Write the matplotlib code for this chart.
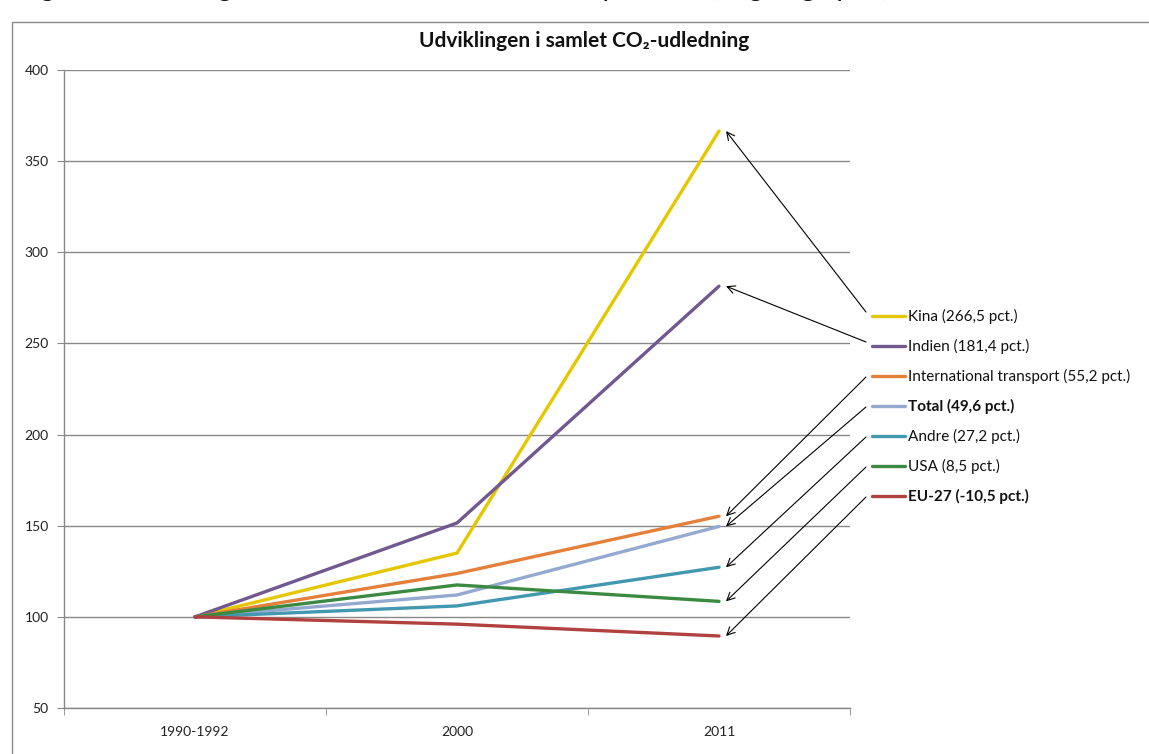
import matplotlib
matplotlib.use("Agg")
import matplotlib.pyplot as plt
from matplotlib.lines import Line2D
from matplotlib.patches import Rectangle
from matplotlib.transforms import ScaledTranslation

plt.rcParams['font.family'] = ['Lato', 'DejaVu Sans']

categories = ["1990-1992", "2000", "2011"]
series_names = ["Kina (266,5 pct.)", "Indien (181,4 pct.)", "International transport (55,2 pct.)",
                "Total (49,6 pct.)", "Andre (27,2 pct.)", "USA (8,5 pct.)", "EU-27 (-10,5 pct.)"]
kina = [100, 135, 366.5]
indien = [100, 151.5, 281.4]
intl_transport = [100, 123.8, 155.2]
total = [100, 112, 149.6]
andre = [100, 106, 127.2]
usa = [100, 117.5, 108.5]
eu27 = [100, 96, 89.5]
series_values = [kina, indien, intl_transport, total, andre, usa, eu27]
colors = ['#E5C700', '#71588F', '#E4803A', '#93A9CF', '#4198AF', '#3B8A42', '#B1413E']
bold_labels = {"Total (49,6 pct.)", "EU-27 (-10,5 pct.)"}
yticks = [50, 100, 150, 200, 250, 300, 350, 400]

W, H = 1149, 754
fig = plt.figure(figsize=(W / 100, H / 100), dpi=100)
ax = fig.add_axes([64 / W, 1 - 708 / H, (850 - 64) / W, (708 - 70) / H])

x = list(range(len(categories)))
for vals, c in zip(series_values, colors):
    ax.plot(x, vals, color=c, lw=2.4, solid_capstyle='round', solid_joinstyle='miter', zorder=3)

ax.set_ylim(50, 400)
ax.set_xlim(-0.5, 2.5)
ax.set_yticks(yticks)
ax.set_yticklabels([str(t) for t in yticks], fontsize=10, color='#222222')
ax.set_xticks(x)
ax.set_xticklabels(categories, fontsize=10, color='#222222')
ax.set_xticks([-0.5, 0.5, 1.5, 2.5], minor=True)
ax.tick_params(axis='x', which='major', length=0, pad=13)
ax.tick_params(axis='x', which='minor', length=5, color='#888888', direction='out')
ax.tick_params(axis='y', length=5, color='#888888', direction='out', pad=6)
ax.grid(axis='y', color='#888888', lw=1.0)
ax.set_axisbelow(True)
for s in ['top', 'right']:
    ax.spines[s].set_visible(False)
for s in ['left', 'bottom']:
    ax.spines[s].set_color('#888888')
    ax.spines[s].set_linewidth(1.0)

# outer chart frame
fig.add_artist(Rectangle((12 / W, -0.1), 1.2, 1 - 22 / H + 0.1, transform=fig.transFigure,
                         fill=False, edgecolor='#8a8a8a', lw=1.0))

# heading above the frame (cut off at the top edge, as in the reference)
fig.text(18 / W, 1 + 4 / H, "Figur 1. Udviklingen i CO₂-emissionerne fordelt på lande (stigning i pct.)",
         fontsize=20, va='baseline', ha='left', color='#111111')

# title
fig.text(584 / W, 1 - 41 / H, "Udviklingen i samlet CO₂-udledning", fontsize=15,
         fontweight='bold', ha='center', va='center', color='#111111')

# manual legend
leg_y0 = 316
leg_dy = 30
for i, (name, c) in enumerate(zip(series_names, colors)):
    yy = 1 - (leg_y0 + i * leg_dy) / H
    fig.add_artist(Line2D([872 / W, 905 / W], [yy, yy], transform=fig.transFigure,
                          color=c, lw=2.4, solid_capstyle='round'))
    fig.text(908 / W, yy, name, fontsize=11, va='center', ha='left', color='#111111',
             fontweight='bold' if name in bold_labels else 'normal')

# arrows from legend entries to line ends
offset = ax.transData + ScaledTranslation(7 / 100, 0, fig.dpi_scale_trans)
for i, vals in enumerate(series_values):
    ystart = leg_y0 + i * leg_dy - (4 if i < 2 else -1)
    ax.annotate("", xy=(x[-1], vals[-1]), xycoords=offset,
                xytext=(866, H - ystart), textcoords='figure pixels',
                arrowprops=dict(arrowstyle='->', color='black', lw=0.8,
                                mutation_scale=14, shrinkA=0, shrinkB=0),
                annotation_clip=False)

fig.savefig("out.png", dpi=100, facecolor='white')
